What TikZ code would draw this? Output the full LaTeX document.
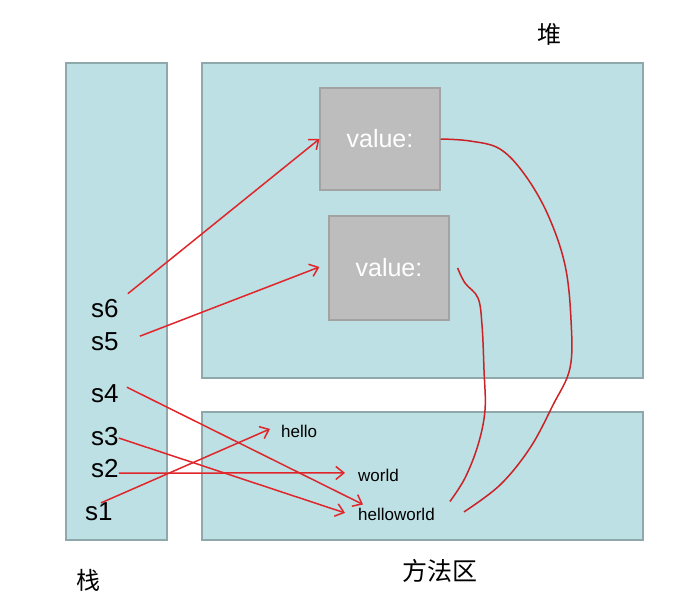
\documentclass[tikz,border=0pt]{standalone}
\usepackage{fontspec}
\setmainfont{Liberation Sans}
\newfontfamily\cjk{Noto Sans CJK SC}
\usepackage{xcolor}
\usetikzlibrary{arrows.meta}
\definecolor{areablue}{HTML}{BCE0E3}
\definecolor{areaedge}{HTML}{8EA8AC}
\definecolor{objgray}{HTML}{BDBDBD}
\definecolor{objedge}{HTML}{A3A3A3}
\definecolor{refred}{HTML}{E0262A}
\newcommand{\areacolor}{areablue}
\newcommand{\edgecolor}{areaedge}
\newcommand{\objcolor}{objgray}
\newcommand{\linkcolor}{refred}
\newcommand{\bigfont}{\fontsize{26}{31}\selectfont}
\newcommand{\smallfont}{\fontsize{17}{20}\selectfont}

\begin{document}
\begin{tikzpicture}[x=1pt, y=-1pt, >={Straight Barb[length=8pt,width=13pt]}]
    \useasboundingbox (0,0) rectangle (699,606);

    % areas
    \filldraw[fill=\areacolor, draw=\edgecolor, line width=1.4pt] (66,63) rectangle (167,540);
    \filldraw[fill=\areacolor, draw=\edgecolor, line width=1.4pt] (202,63) rectangle (643,378);
    \filldraw[fill=\areacolor, draw=\edgecolor, line width=1.4pt] (202,412) rectangle (643,540);

    % objects in the heap
    \node[fill=\objcolor, draw=objedge, line width=1.2pt, minimum width=120pt, minimum height=102pt, text=white, font=\fontsize{25}{30}\selectfont] (obj1) at (380,139) {value:};
    \node[fill=\objcolor, draw=objedge, line width=1.2pt, minimum width=120pt, minimum height=104pt, text=white, font=\fontsize{25}{30}\selectfont] (obj2) at (389,268) {value:};

    % stack variables
    \node[anchor=base west, inner sep=1pt, font=\bigfont] (s6) at (90,317) {s6};
    \node[anchor=base west, inner sep=1pt, font=\bigfont] (s5) at (90,350) {s5};
    \node[anchor=base west, inner sep=1pt, font=\bigfont] (s4) at (90,402) {s4};
    \node[anchor=base west, inner sep=1pt, font=\bigfont] (s3) at (90,445) {s3};
    \node[anchor=base west, inner sep=1pt, font=\bigfont] (s2) at (90,477) {s2};
    \node[anchor=base west, inner sep=1pt, font=\bigfont] (s1) at (84,520) {s1};

    % constants in the method area
    \node[anchor=base west, inner sep=0pt, font=\smallfont] (hello) at (281,437) {hello};
    \node[anchor=base west, inner sep=0pt, font=\smallfont] (world) at (358,481) {world};
    \node[anchor=base west, inner sep=0pt, font=\smallfont] (helloworld) at (358,520) {helloworld};

    % references
    \draw[->, \linkcolor, line width=1.5pt] ([shift={(8,-4)}]s6.north east) -- (obj1.west);
    \draw[->, \linkcolor, line width=1.5pt] ([shift={(20,-5)}]s5.east) -- ([shift={(-9,-1)}]obj2.west);
    \draw[->, \linkcolor, line width=1.5pt] ([shift={(7,-6)}]s4.east) -- ([shift={(5,-3)}]helloworld.north west);
    \draw[->, \linkcolor, line width=1.5pt] ([shift={(-1,2)}]s3.east) -- ([shift={(-13,-1)}]helloworld.west);
    \draw[->, \linkcolor, line width=1.5pt] ([shift={(-1,5)}]s2.east) -- ([shift={(-13,-2)}]world.west);
    \draw[->, \linkcolor, line width=1.5pt] ([shift={(2,2)}]s1.north) -- ([shift={(-11,-2)}]hello.west);

    % value links
    \draw[\linkcolor!90!black, line width=1.5pt] plot[smooth, tension=0.6] coordinates {(obj1.east) (470,141) (500,149) (525,175) (548,215) (565,265) (571,320) (570,368) (553,405) (530,448) (500,485) ([shift={(29,-2)}]helloworld.east)};
    \draw[\linkcolor!90!black, line width=1.5pt] plot[smooth, tension=0.6] coordinates {([shift={(8,0)}]obj2.east) (465,283) (478,298) (482,325) (484,370) (485,410) (478,445) (465,478) ([shift={(15,-6)}]helloworld.north east)};

    % labels
    \node[font=\cjk\fontsize{24}{28}\selectfont] (heaplabel) at (549,34) {堆};
    \node[font=\cjk\fontsize{24}{28}\selectfont] (stacklabel) at (88,580) {栈};
    \node[font=\cjk\fontsize{25}{30}\selectfont] (methodlabel) at (440,571) {方法区};
\end{tikzpicture}
\end{document}
